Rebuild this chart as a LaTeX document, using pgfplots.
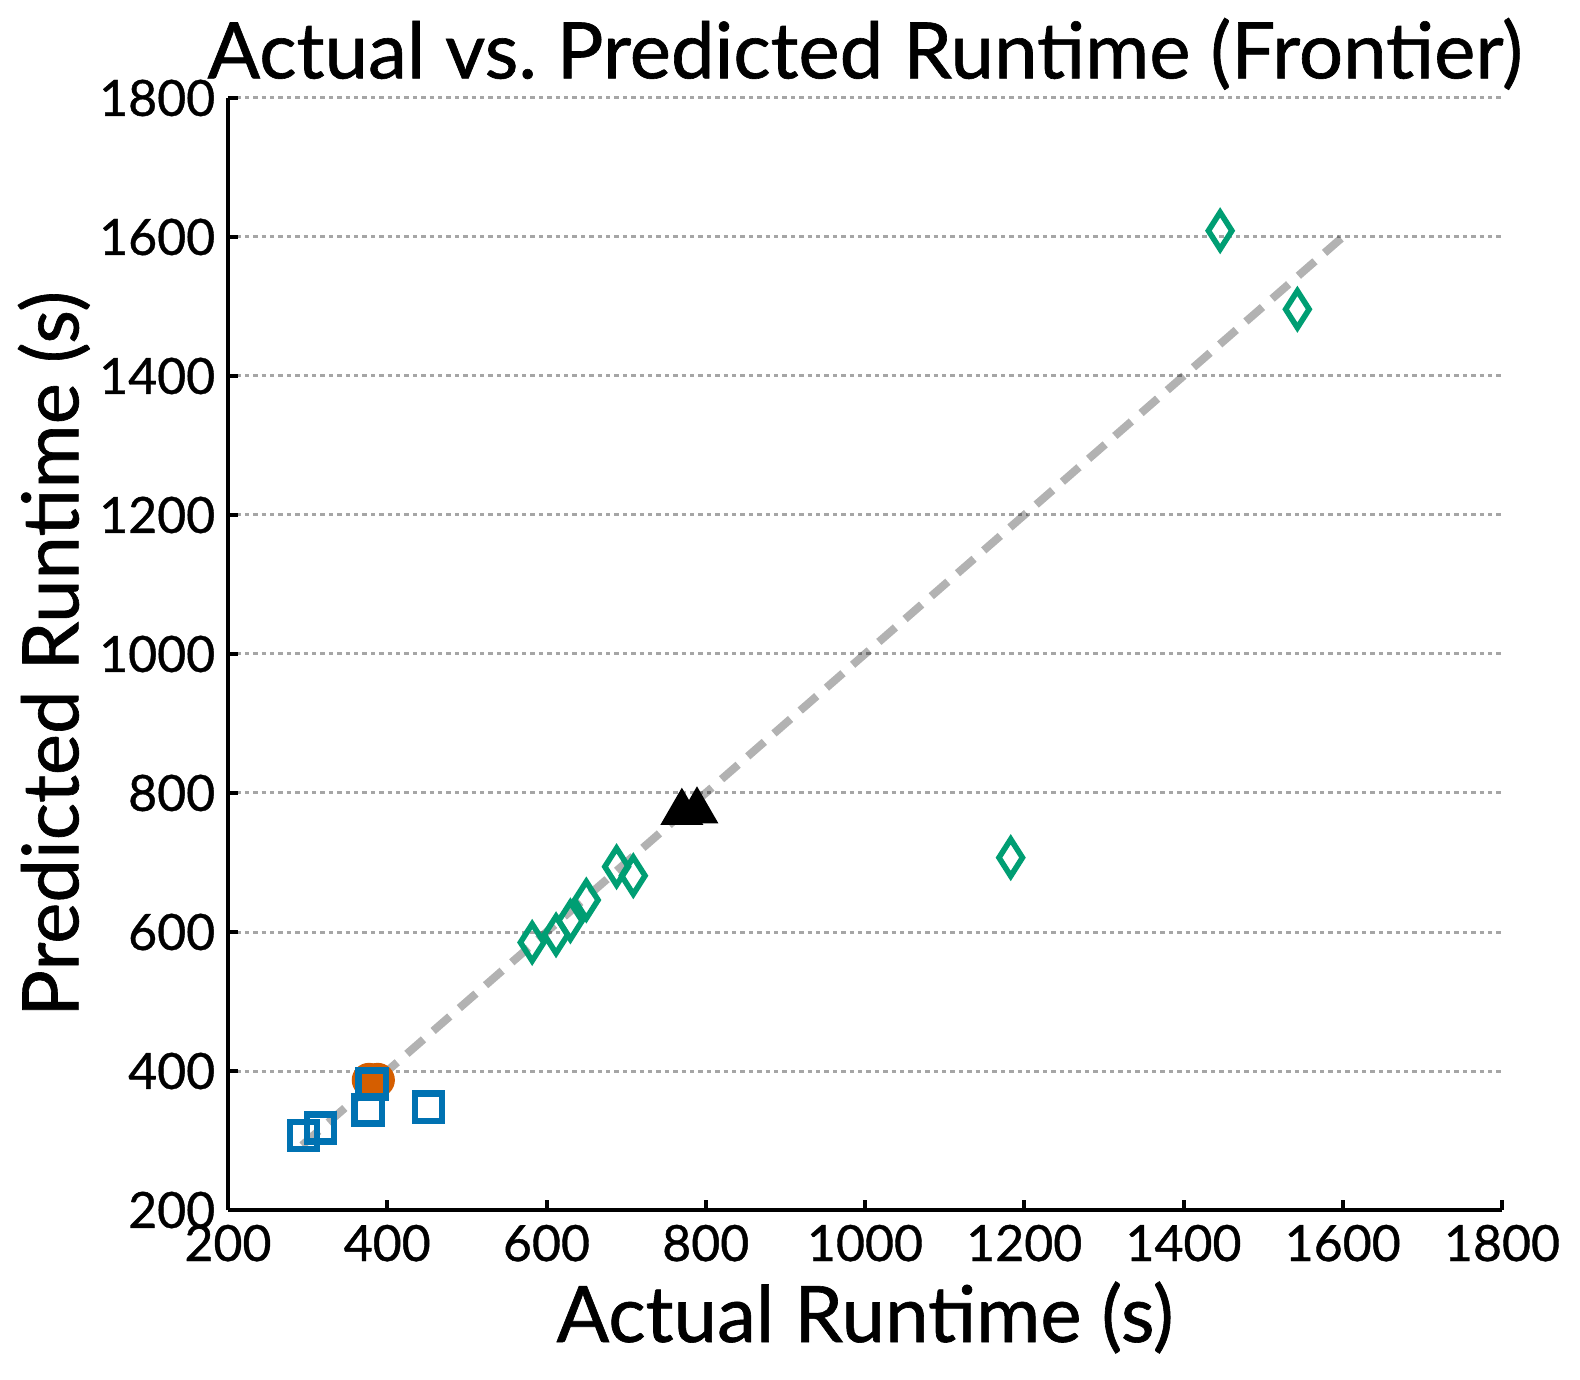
\documentclass[border=0pt]{standalone}
\usepackage{fontspec}
\setmainfont{Lato}[FakeBold=0.8]
\usepackage{pgfplots}
\pgfplotsset{compat=1.18}

\definecolor{cbblue}{HTML}{0072B2}
\definecolor{cborange}{HTML}{D55E00}
\definecolor{cbgreen}{HTML}{009E73}

\begin{document}
\begin{tikzpicture}
\useasboundingbox (-57pt,-42.25pt) rectangle (338pt,302.5pt);
\begin{axis}[
	at={(0,0)}, anchor=south west,
	scale only axis,
	width=318.5pt, height=278pt,
	xmin=200, xmax=1800,
	ymin=200, ymax=1800,
	xtick={200,400,...,1800},
	ytick={200,400,...,1800},
	/pgf/number format/assume math mode=true,
	/pgf/number format/1000 sep={},
	tick label style={font=\fontsize{12.5}{14}\selectfont, inner sep=0pt},
	x tick label style={anchor=north, yshift=-3.5pt},
	y tick label style={anchor=east, xshift=-3pt},
	axis x line*=bottom, axis y line*=left,
	axis line style={line width=1pt, -},
	tick style={line width=1pt, black},
	tick align=inside,
	major tick length=2.5pt,
	ymajorgrids,
	major grid style={gray!70, line width=0.75pt, dash pattern=on 1.1pt off 1pt},
	every axis title/.style={font=\fontsize{19.5}{22}\selectfont, at={(axis description cs:0.5,1)}, anchor=base, yshift=4.9pt, inner sep=0pt},
	title={Actual vs.\ Predicted Runtime (Frontier)},
	every axis x label/.style={font=\fontsize{19.5}{22}\selectfont, at={(axis description cs:0.5,0)}, anchor=base, yshift=-33pt, inner sep=0pt},
	xlabel={Actual Runtime (s)},
	every axis y label/.style={font=\fontsize{19.5}{22}\selectfont, at={(axis description cs:0,0.5)}, rotate=90, anchor=base, yshift=37.4pt, inner sep=0pt},
	ylabel={Predicted Runtime (s)},
	clip=false,
]
% orange: filled circles
\addplot[only marks, mark=*, mark size=4.1pt, color=cborange, mark options={draw=none, fill=cborange}]
	coordinates {(377,387) (388,387)};

% blue: open squares
\addplot[only marks, mark=square, mark size=3.4pt, color=cbblue, mark options={line width=1.6pt}]
	coordinates {(295,307) (316,318) (376,344) (381,381) (452,348)};

% green: thin diamonds
\addplot[only marks, mark=diamond, mark size=4.6pt, color=cbgreen, mark options={line width=1.4pt, xscale=0.85}]
	coordinates {(582,585) (612,596) (630,616) (650,646) (688,694) (709,681)
		(1183,707) (1446,1609) (1543,1496)};

% black: filled triangles
\addplot[only marks, mark=triangle*, mark size=5.8pt, color=black]
	coordinates {(770,772) (789,774)};

% identity line
\addplot[black, opacity=0.3, line width=2pt, dash pattern=on 5.5pt off 3.2pt]
	coordinates {(293,293) (1609,1609)};
\end{axis}
\end{tikzpicture}
\end{document}
